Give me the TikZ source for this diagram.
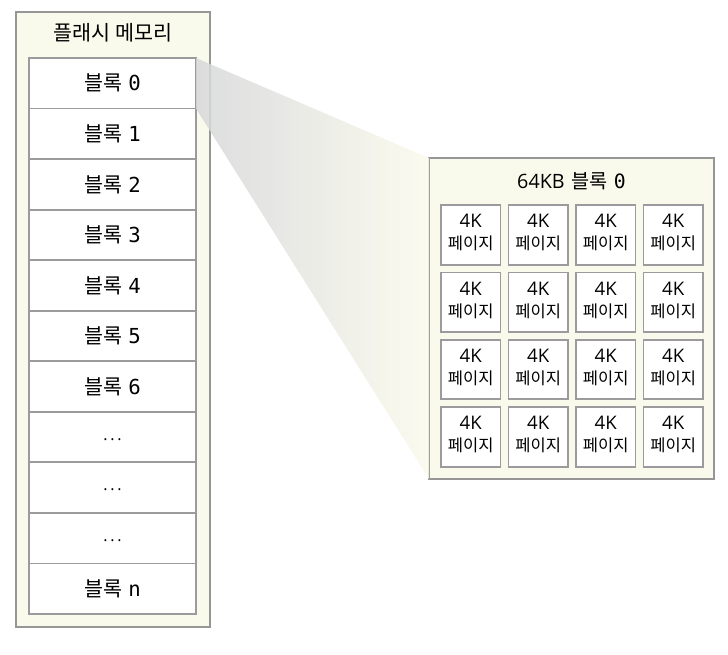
\documentclass[tikz,border=0pt]{standalone}
\usepackage{fontspec}
\newfontfamily\krfont{Noto Sans CJK KR}
\newfontfamily\codefont{DejaVu Sans Mono}
\newfontfamily\latinfont{Open Sans}
\usetikzlibrary{positioning}

\definecolor{framegray}{RGB}{150,150,150}
\definecolor{linegray}{RGB}{155,155,158}
\definecolor{memfill}{RGB}{250,250,236}
\definecolor{shadegray}{RGB}{214,215,217}

\newcommand\blklbl[1]{{\krfont 블록} {\codefont #1}}
\newcommand\dotlbl{{\latinfont\fontsize{12}{14}\selectfont\smash{\raisebox{-2.5pt}{.\kern2pt.\kern2pt.}}}}

\tikzset{
  memframe/.style={draw=framegray, line width=1.5pt, fill=memfill, inner sep=0pt, outer sep=0pt},
  blk/.style={draw=linegray, line width=1.3pt, fill=white, minimum width=125.25pt, minimum height=37.9pt, inner sep=0pt, outer sep=0pt, font=\fontsize{15.5}{18}\selectfont},
  page/.style={draw=linegray, line width=1.3pt, fill=white, minimum width=44.6pt, minimum height=44.6pt, inner sep=0pt, align=center},
  ttl/.style={font=\fontsize{15.5}{18}\selectfont}
}

\begin{document}
\begin{tikzpicture}[x=0.75pt, y=-0.75pt]
\useasboundingbox (0,0) rectangle (728,654);

% flash memory
\node[memframe, minimum width=145.5pt, minimum height=461.25pt] (flash) at (113,319.5) {};
\node[ttl] (flashtitle) at (113,33) {\krfont 플래시 메모리};
\node[blk] (b0) at (112.5,83.3) {\blklbl{0}};
\foreach \txt [count=\i] in {\blklbl{1},\blklbl{2},\blklbl{3},\blklbl{4},\blklbl{5},\blklbl{6},\dotlbl,\dotlbl,\dotlbl,\blklbl{n}} {
  \pgfmathtruncatemacro\prev{\i-1}
  \node[blk, below=0pt of b\prev] (b\i) {\txt};
}

% 64KB block
\node[memframe, minimum width=213.75pt, minimum height=240.75pt] (bigblk) at (571.5,318.5) {};
\node[ttl, font=\fontsize{14.8}{17}\selectfont] (bigtitle) at (571.5,181) {{\latinfont 64KB} {\krfont 블록} {\codefont 0}};
\foreach \r in {0,...,3}
  \foreach \c in {0,...,3}
    \node[page] (pg-\r-\c) at (470.75+67.5*\c, 235+67.3*\r)
      {{\latinfont\fontsize{14}{16}\selectfont 4K}\\[4.5pt]{\krfont\fontsize{12.4}{14}\selectfont 페이지\rule[-4.5pt]{0pt}{1pt}}};

% zoom funnel
\shade[left color=shadegray, right color=memfill, opacity=0.85]
  (b0.north east) -- (bigblk.north west) -- (bigblk.south west) -- (b0.south east) -- cycle;

\end{tikzpicture}
\end{document}
